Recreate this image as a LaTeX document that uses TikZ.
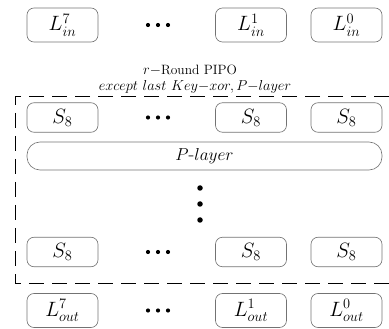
\documentclass[tikz,border=0pt]{standalone}
\usepackage{amsmath}
\begin{document}
\begin{tikzpicture}[x=1pt,y=-1pt,
  box/.style={draw=black!55,line width=0.6pt,rounded corners=7pt,minimum width=71pt,inner sep=0pt},
  lbox/.style={box,minimum height=34pt,font=\fontsize{22}{25}\selectfont},
  sbox/.style={box,minimum height=29.5pt,font=\fontsize{20}{23}\selectfont},
  hdot/.style={circle,fill=black,inner sep=0pt,minimum size=4.2pt},
  vdot/.style={circle,fill=black,inner sep=0pt,minimum size=5.5pt},
  frame/.style={line width=0.9pt,dash pattern=on 15pt off 8pt}]
\useasboundingbox (0,0) rectangle (389,329);
% top inputs
\node[lbox] (li7) at (62.5,25) {$L_{in}^{7}$};
\node[lbox] (li1) at (251,25) {$L_{in}^{1}$};
\node[lbox] (li0) at (346.5,25) {$L_{in}^{0}$};
\node[hdot] (d1a) at (148,25) {};
\node[hdot] (d1b) at (158,25) {};
\node[hdot] (d1c) at (168,25) {};
% caption
\node[font=\fontsize{13.5}{15}\selectfont,inner sep=0pt] (t1) at (190,70) {$r-$Round PIPO};
\node[font=\fontsize{14.5}{16}\selectfont,inner sep=0pt] (t2) at (195,86.5) {$except\ last\ Key{-}xor,P{-}layer$};
% frame
\coordinate (ftr) at (389,96);
\coordinate (ftl) at (15,96);
\coordinate (fbl) at (15,283);
\coordinate (fbr) at (389,283);
\draw[frame] (ftr) -- (ftl) -- (fbl) -- (fbr);
% S row 1
\node[sbox] (s17) at (62.5,117.5) {$S_{8}$};
\node[sbox] (s11) at (251,117.5) {$S_{8}$};
\node[sbox] (s10) at (346.5,117.5) {$S_{8}$};
\node[hdot] (d2a) at (148,117.5) {};
\node[hdot] (d2b) at (158,117.5) {};
\node[hdot] (d2c) at (168,117.5) {};
% P-layer
\node[draw=black!55,line width=0.6pt,rounded corners=13pt,minimum width=355pt,minimum height=28pt,inner sep=0pt,font=\fontsize{19}{22}\selectfont] (pl) at (204.5,156) {$P\text{-}layer$};
% vertical dots
\node[vdot] (v1) at (200,188) {};
\node[vdot] (v2) at (200,204) {};
\node[vdot] (v3) at (200,220) {};
% S row 2
\node[sbox] (s27) at (62.5,252) {$S_{8}$};
\node[sbox] (s21) at (251,252) {$S_{8}$};
\node[sbox] (s20) at (346.5,252) {$S_{8}$};
\node[hdot] (d3a) at (148,252) {};
\node[hdot] (d3b) at (158,252) {};
\node[hdot] (d3c) at (168,252) {};
% outputs
\node[lbox] (lo7) at (62.5,310.5) {$L_{out}^{7}$};
\node[lbox] (lo1) at (251,310.5) {$L_{out}^{1}$};
\node[lbox] (lo0) at (346.5,310.5) {$L_{out}^{0}$};
\node[hdot] (d4a) at (148,310.5) {};
\node[hdot] (d4b) at (158,310.5) {};
\node[hdot] (d4c) at (168,310.5) {};
\end{tikzpicture}
\end{document}
